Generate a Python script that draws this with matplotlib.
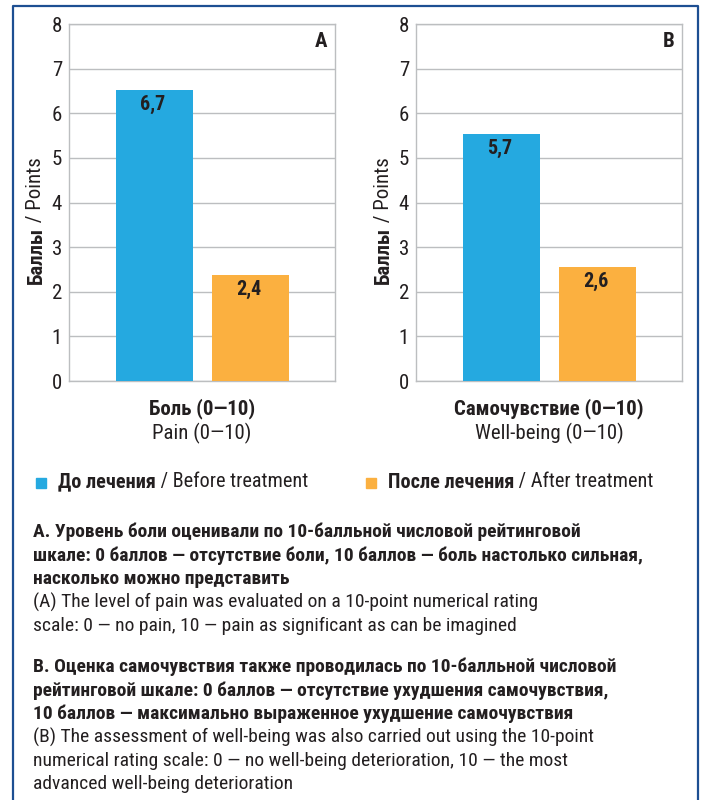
import matplotlib.pyplot as plt
from matplotlib.lines import Line2D
from matplotlib.patches import Rectangle
from matplotlib import font_manager

names = {f.name for f in font_manager.fontManager.ttflist}
prefs = ["Roboto Condensed", "PT Sans Narrow", "Fira Sans Condensed",
         "Archivo Narrow", "Liberation Sans Narrow", "DejaVu Sans"]
FONT = next(p for p in prefs if p in names)
plt.rcParams["font.family"] = [FONT, "DejaVu Sans"]

# data
groups = ["До лечения", "После лечения"]
groups_en = ["Before treatment", "After treatment"]
pain_vals = [6.52, 2.37]
pain_labels = ["6,7", "2,4"]
well_vals = [5.53, 2.55]
well_labels = ["5,7", "2,6"]
panels = ["A", "B"]
xlab_ru = ["Боль (0—10)", "Самочувствие (0—10)"]
xlab_en = ["Pain (0—10)", "Well-being (0—10)"]
yticks = [0, 1, 2, 3, 4, 5, 6, 7, 8]

blue = "#25a9e0"
orange = "#fbb040"
txt = "#231f20"
grid_c = "#bcbec0"
frame_c = "#1d4f92"

W, H = 702, 800
fig = plt.figure(figsize=(W / 100, H / 100), dpi=100)


def fx(x):
    return x / W


def fy(y):
    return 1 - y / H


# outer frame
fig.add_artist(Line2D([fx(13), fx(13), fx(698), fx(698)], [0, fy(6), fy(6), 0],
                      color=frame_c, lw=1.6, transform=fig.transFigure))

axes_x = [69, 416]
ax_w = 266
ax_top, ax_bot = 24, 381

for i, (vals, labs) in enumerate([(pain_vals, pain_labels), (well_vals, well_labels)]):
    ax = fig.add_axes([fx(axes_x[i]), fy(ax_bot), ax_w / W, (ax_bot - ax_top) / H])
    bars = ax.bar([0, 1], vals, width=0.8, color=[blue, orange], zorder=3)
    for b, lab in zip(bars, labs):
        ax.annotate(lab, (b.get_x() + b.get_width() / 2, b.get_height()),
                    xytext=(-1, -10), textcoords="offset points", ha="center",
                    va="center", fontsize=14.5, fontweight="bold", color=txt)
    ax.set_xlim(-0.89, 1.88)
    ax.set_ylim(0, 8)
    ax.set_yticks(yticks)
    ax.set_xticks([])
    ax.tick_params(axis="y", length=0, labelsize=15, labelcolor=txt, pad=5)
    ax.grid(axis="y", color=grid_c, lw=1, zorder=0)
    for s in ax.spines.values():
        s.set_color(grid_c)
        s.set_linewidth(1)
    ax.text(0.97, 0.95, panels[i], transform=ax.transAxes, ha="right", va="center",
            fontsize=15, fontweight="bold", color=txt)
    cx = axes_x[i] + ax_w / 2
    fig.text(fx(cx), fy(409), xlab_ru[i], ha="center", va="center",
             fontsize=15, fontweight="bold", color=txt)
    fig.text(fx(cx), fy(433), xlab_en[i], ha="center", va="center",
             fontsize=15, color=txt)
    # y label: bold + normal, rotated
    t1 = fig.text(fx(axes_x[i] - 33), fy(284), "Баллы", rotation=90, ha="center",
                  va="bottom", fontsize=15, fontweight="bold", color=txt)
    fig.add_artist(plt.Annotation(" / Points", xy=(0, 1), xycoords=t1, rotation=90,
                                  ha="left", va="bottom", fontsize=15, color=txt))

# legend
leg_x = [36, 366]
for i in range(2):
    c = [blue, orange][i]
    fig.add_artist(Rectangle((fx(leg_x[i]), fy(488)), 10 / W, 10 / H, color=c,
                             transform=fig.transFigure))
    t1 = fig.text(fx(leg_x[i] + 22), fy(482), groups[i], ha="left", va="center",
                  fontsize=14.6, fontweight="bold", color=txt)
    fig.add_artist(plt.Annotation(" / " + groups_en[i], xy=(1, 0), xycoords=t1,
                                  ha="left", va="bottom", fontsize=14.6, color=txt))

# notes
notes_bold = [
    ["А. Уровень боли оценивали по 10-балльной числовой рейтинговой",
     "шкале: 0 баллов — отсутствие боли, 10 баллов — боль настолько сильная,",
     "насколько можно представить"],
    ["B. Оценка самочувствия также проводилась по 10-балльной числовой",
     "рейтинговой шкале: 0 баллов — отсутствие ухудшения самочувствия,",
     "10 баллов — максимально выраженное ухудшение самочувствия"],
]
notes_en = [
    ["(A) The level of pain was evaluated on a 10-point numerical rating",
     "scale: 0 — no pain, 10 — pain as significant as can be imagined"],
    ["(B) The assessment of well-being was also carried out using the 10-point",
     "numerical rating scale: 0 — no well-being deterioration, 10 — the most",
     "advanced well-being deterioration"],
]
starts = [532, 667]
step = 23.4
for k in range(2):
    y = starts[k]
    for line in notes_bold[k]:
        fig.text(fx(33), fy(y), line, ha="left", va="center", fontsize=14,
                 fontweight="bold", color=txt)
        y += step
    for line in notes_en[k]:
        fig.text(fx(33), fy(y), line, ha="left", va="center", fontsize=14, color=txt)
        y += step

fig.savefig("out.png", dpi=100)
